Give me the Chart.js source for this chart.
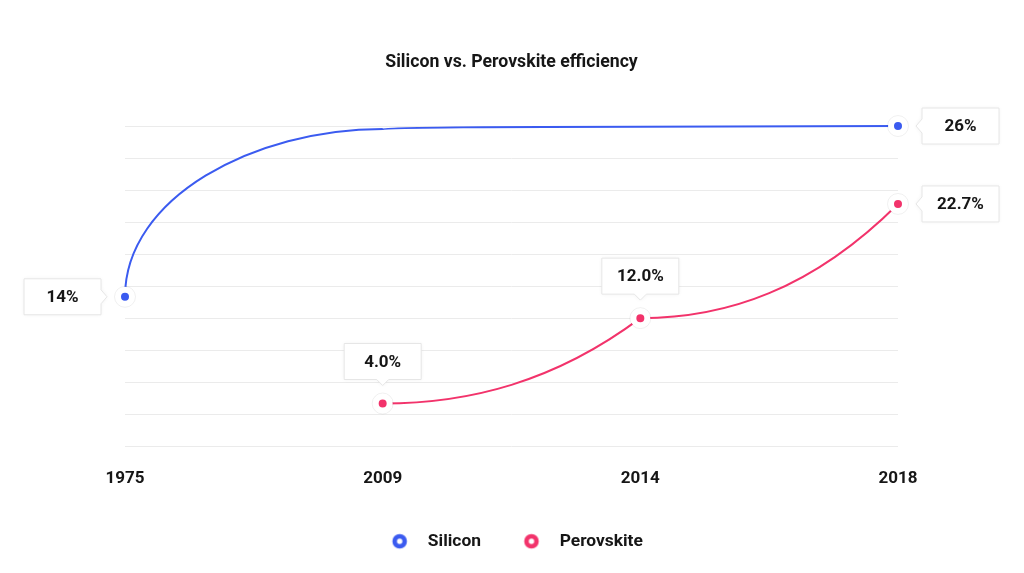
<!DOCTYPE html>
<html lang="en">
<head>
<meta charset="UTF-8">
<title>Silicon vs. Perovskite efficiency</title>
<script src="https://cdn.jsdelivr.net/npm/chart.js"></script>
<style>
  html, body { margin: 0; padding: 0; background: #fff; }
  .wrap { width: 1024px; height: 573px; position: relative; }
</style>
</head>
<body>
<div class="wrap"><canvas id="chart"></canvas></div>
<script>
// data
const years = ['1975', '2009', '2014', '2018'];
const silicon = [14, 25.8, 25.95, 26];
const siliconMarked = [true, false, false, true];
const perovskite = [null, 4.0, 12.0, 22.7];
const perovskiteMarked = [false, true, true, true];

const BLUE = '#3b5bf0';
const PINK = '#f2336b';
const INK = '#161616';
const FONT = 'Roboto';

Chart.defaults.font.family = FONT;

// reshape each segment: 'out' rises fast then flattens, 'in' starts flat and bends up
const curvePlugin = {
  id: 'curves',
  beforeDatasetDraw(chart, args) {
    const line = args.meta.dataset;
    const shape = chart.data.datasets[args.index].curve;
    if (!line || !shape) return;
    line.updateControlPoints(chart.chartArea, 'x');
    const pts = line.points.filter(p => !p.skip);
    for (let i = 0; i < pts.length - 1; i++) {
      const p = pts[i], q = pts[i + 1];
      const dx = q.x - p.x, dy = q.y - p.y;
      if (shape === 'out') {
        p.cp2x = p.x; p.cp2y = p.y + 0.59 * dy;
        q.cp1x = p.x + 0.5 * dx; q.cp1y = q.y;
      } else {
        p.cp2x = p.x + dx / 3; p.cp2y = p.y;
        q.cp1x = p.x + 2 * dx / 3; q.cp1y = p.y + 0.25 * dy;
      }
    }
    line._path = undefined;
  }
};

// ring marker for the legend
function ring(color) {
  const c = document.createElement('canvas');
  c.width = 18; c.height = 18;
  const g = c.getContext('2d');
  g.beginPath();
  g.arc(9, 9, 5, 0, Math.PI * 2);
  g.strokeStyle = color;
  g.lineWidth = 4.6;
  g.stroke();
  return c;
}

function boxPath(ctx, x, y, w, h, side, tip) {
  ctx.beginPath();
  ctx.moveTo(x, y);
  if (side === 'top') {
    ctx.lineTo(x + w, y);
    ctx.lineTo(x + w, y + h);
    ctx.lineTo(x + w / 2 + 6, y + h);
    ctx.lineTo(x + w / 2, y + h + tip);
    ctx.lineTo(x + w / 2 - 6, y + h);
    ctx.lineTo(x, y + h);
  } else if (side === 'left') {
    // box sits left of the point, pointer on its right edge
    ctx.lineTo(x + w, y);
    ctx.lineTo(x + w, y + h / 2 - 7);
    ctx.lineTo(x + w + tip, y + h / 2);
    ctx.lineTo(x + w, y + h / 2 + 7);
    ctx.lineTo(x + w, y + h);
    ctx.lineTo(x, y + h);
  } else {
    ctx.lineTo(x + w, y);
    ctx.lineTo(x + w, y + h);
    ctx.lineTo(x, y + h);
    ctx.lineTo(x, y + h / 2 + 7);
    ctx.lineTo(x - tip, y + h / 2);
    ctx.lineTo(x, y + h / 2 - 7);
  }
  ctx.closePath();
}

const labelPlugin = {
  id: 'valueBoxes',
  afterDatasetsDraw(chart) {
    const ctx = chart.ctx;
    const last = chart.data.labels.length - 1;
    chart.data.datasets.forEach((ds, di) => {
      const meta = chart.getDatasetMeta(di);
      meta.data.forEach((pt, i) => {
        if (!ds.marked[i]) return;
        // faint ring round the white halo
        ctx.save();
        ctx.beginPath();
        ctx.arc(pt.x, pt.y, 10.5, 0, Math.PI * 2);
        ctx.strokeStyle = 'rgba(0,0,0,0.06)';
        ctx.lineWidth = 1;
        ctx.stroke();
        ctx.restore();

        const text = ds.data[i].toFixed(ds.decimals) + '%';
        ctx.save();
        ctx.font = 'bold 17px ' + FONT;
        const w = Math.max(77, ctx.measureText(text).width + 26);
        const h = 36, gap = 24, tip = 6;
        let side, bx, by;
        if (i === 0) {
          side = 'left'; bx = pt.x - gap - w; by = pt.y - h / 2;
        } else if (i === last) {
          side = 'right'; bx = pt.x + gap; by = pt.y - h / 2;
        } else {
          side = 'top'; bx = pt.x - w / 2; by = pt.y - gap - h;
        }
        boxPath(ctx, bx, by, w, h, side, tip);
        ctx.shadowColor = 'rgba(0,0,0,0.06)';
        ctx.shadowBlur = 4;
        ctx.fillStyle = '#fff';
        ctx.fill();
        ctx.shadowColor = 'transparent';
        ctx.strokeStyle = '#e6e6e6';
        ctx.lineWidth = 1;
        ctx.stroke();
        ctx.fillStyle = INK;
        ctx.textAlign = 'center';
        ctx.textBaseline = 'middle';
        ctx.fillText(text, bx + w / 2, by + h / 2 + 1);
        ctx.restore();
      });
    });
  }
};

new Chart(document.getElementById('chart'), {
  type: 'line',
  data: {
    labels: years,
    datasets: [{
      label: 'Silicon',
      data: silicon,
      marked: siliconMarked,
      decimals: 0,
      curve: 'out',
      yAxisID: 'y2',
      borderColor: BLUE,
      backgroundColor: BLUE,
      borderWidth: 2,
      tension: 0.4,
      clip: false,
      pointRadius: siliconMarked.map(m => m ? 7 : 0),
      pointBorderWidth: 6,
      pointBorderColor: '#fff',
      pointBackgroundColor: BLUE
    }, {
      label: 'Perovskite',
      data: perovskite,
      marked: perovskiteMarked,
      decimals: 1,
      curve: 'in',
      yAxisID: 'y',
      borderColor: PINK,
      backgroundColor: PINK,
      borderWidth: 2,
      tension: 0.4,
      clip: false,
      pointRadius: perovskiteMarked.map(m => m ? 7 : 0),
      pointBorderWidth: 6,
      pointBorderColor: '#fff',
      pointBackgroundColor: PINK
    }]
  },
  options: {
    responsive: true,
    maintainAspectRatio: false,
    animation: false,
    events: [],
    layout: { padding: { left: 125, right: 126, top: 0, bottom: 13 } },
    plugins: {
      title: {
        display: true,
        text: 'Silicon vs. Perovskite efficiency',
        color: INK,
        font: { size: 17.7, weight: 'bold' },
        padding: { top: 52, bottom: 52.8 }
      },
      legend: {
        position: 'bottom',
        labels: {
          usePointStyle: true,
          pointStyleWidth: 39,
          boxHeight: 14,
          padding: 31,
          color: INK,
          font: { size: 17.4, weight: 'bold' },
          generateLabels(chart) {
            return chart.data.datasets.map((ds, i) => ({
              text: ds.label,
              fillStyle: '#fff',
              strokeStyle: ds.borderColor,
              lineWidth: 0,
              pointStyle: ring(ds.borderColor),
              fontColor: INK,
              hidden: false,
              datasetIndex: i
            }));
          }
        }
      },
      tooltip: { enabled: false }
    },
    scales: {
      x: {
        offset: false,
        grid: { display: false, tickLength: 9 },
        border: { display: false },
        ticks: {
          color: INK,
          padding: 13,
          maxRotation: 0,
          autoSkip: false,
          font: { size: 17, weight: 'bold' }
        }
      },
      y: {
        min: 0,
        max: 30,
        ticks: { display: false, stepSize: 3 },
        grid: { color: '#ebebeb', drawTicks: false },
        border: { display: false }
      },
      y2: {
        display: false,
        min: 3.5,
        max: 26
      }
    }
  },
  plugins: [curvePlugin, labelPlugin]
});
</script>
</body>
</html>
